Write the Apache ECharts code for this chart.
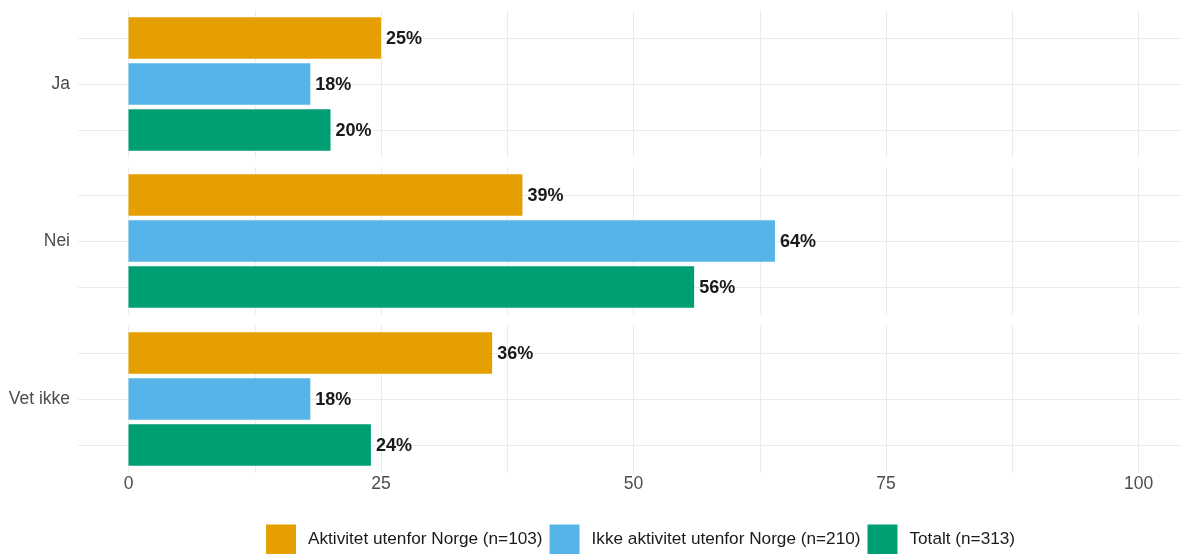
<!DOCTYPE html>
<html>
<head>
<meta charset="utf-8">
<script src="https://cdn.jsdelivr.net/npm/echarts@6/dist/echarts.min.js"></script>
<style>
  html, body { margin: 0; padding: 0; background: #fff; }
  #chart { width: 1182px; height: 554px; }
</style>
</head>
<body>
<div id="chart"></div>
<script>
// Answer categories, one panel each
const categories = ['Ja', 'Nei', 'Vet ikke'];
// Groups (legend entries)
const groupNames = [
  'Aktivitet utenfor Norge (n=103)',
  'Ikke aktivitet utenfor Norge (n=210)',
  'Totalt (n=313)'
];
// Percentages per category, in the order of `categories`
const aktivitet = [25, 39, 36];
const ikkeAktivitet = [18, 64, 18];
const totalt = [20, 56, 24];
// Axis ticks
const xLabelTicks = [0, 25, 50, 75, 100];
const xGridTicks = [0, 12.5, 25, 37.5, 50, 62.5, 75, 87.5, 100];

const groupValues = [aktivitet, ikkeAktivitet, totalt];
const groupColors = ['#E69F00', '#56B4E9', '#009E73'];

const FONT = '"Liberation Sans", Arial, sans-serif';
const GRID_COLOR = '#ebebeb';

// Panel layout (pixels); the panels run to the right edge of the canvas
const panelLeft = 78;
const panelWidth = 1104;
const panelHeight = 147.2;
const panelTops = [10.4, 167.4, 325.4];
const xMin = -5;
const xMax = 104.3;

function renderBar(params, api) {
  const v = api.value(0);
  const y = api.value(1);
  const start = api.coord([0, y]);
  const end = api.coord([v, y]);
  const h = api.size([0, 0.9])[1];
  return {
    type: 'group',
    children: [
      {
        type: 'rect',
        shape: { x: start[0], y: start[1] - h / 2, width: end[0] - start[0], height: h },
        style: { fill: api.visual('color') }
      },
      {
        type: 'text',
        style: {
          x: end[0] + 5,
          y: end[1] + 1.5,
          text: v + '%',
          fill: '#1a1a1a',
          font: 'bold 18px ' + FONT,
          textAlign: 'left',
          textVerticalAlign: 'middle'
        }
      }
    ]
  };
}

const grids = [], xAxes = [], yAxes = [], series = [];
categories.forEach((cat, ci) => {
  grids.push({ left: panelLeft, top: panelTops[ci], width: panelWidth, height: panelHeight });
  xAxes.push({
    type: 'value', gridIndex: ci, min: xMin, max: xMax,
    axisLine: { show: false },
    axisTick: { show: false, customValues: xGridTicks },
    splitLine: { show: true, lineStyle: { color: GRID_COLOR, width: 1 } },
    axisLabel: {
      show: ci === categories.length - 1,
      customValues: xLabelTicks,
      color: '#4d4d4d', fontFamily: FONT, fontSize: 17.5, margin: 3
    }
  });
  yAxes.push({
    type: 'value', gridIndex: ci, min: 0.4, max: 3.6, inverse: true,
    axisLine: { show: false },
    axisTick: { show: false, customValues: [1, 2, 3] },
    splitLine: { show: true, lineStyle: { color: GRID_COLOR, width: 1 } },
    axisLabel: {
      customValues: [2],
      formatter: () => cat,
      color: '#4d4d4d', fontFamily: FONT, fontSize: 17.5, margin: 8,
      padding: [4, 0, 0, 0]
    }
  });
  groupNames.forEach((name, gi) => {
    series.push({
      type: 'custom',
      name: name,
      xAxisIndex: ci,
      yAxisIndex: ci,
      itemStyle: { color: groupColors[gi] },
      encode: { x: 0, y: 1 },
      renderItem: renderBar,
      data: [[groupValues[gi][ci], gi + 1]],
      z: 2
    });
  });
});

const chart = echarts.init(document.getElementById('chart'), null, { renderer: 'canvas' });
chart.setOption({
  animation: false,
  backgroundColor: '#ffffff',
  grid: grids,
  xAxis: xAxes,
  yAxis: yAxes,
  legend: {
    data: groupNames.map((n, i) => ({ name: n, icon: 'rect', itemStyle: { color: groupColors[i] } })),
    left: 266,
    top: 524.5,
    itemWidth: 30,
    itemHeight: 30,
    itemGap: 7,
    padding: 0,
    selectedMode: false,
    textStyle: { color: '#1a1a1a', fontFamily: FONT, fontSize: 17.2, padding: [2, 0, 0, 7] }
  },
  series: series
});
</script>
</body>
</html>
